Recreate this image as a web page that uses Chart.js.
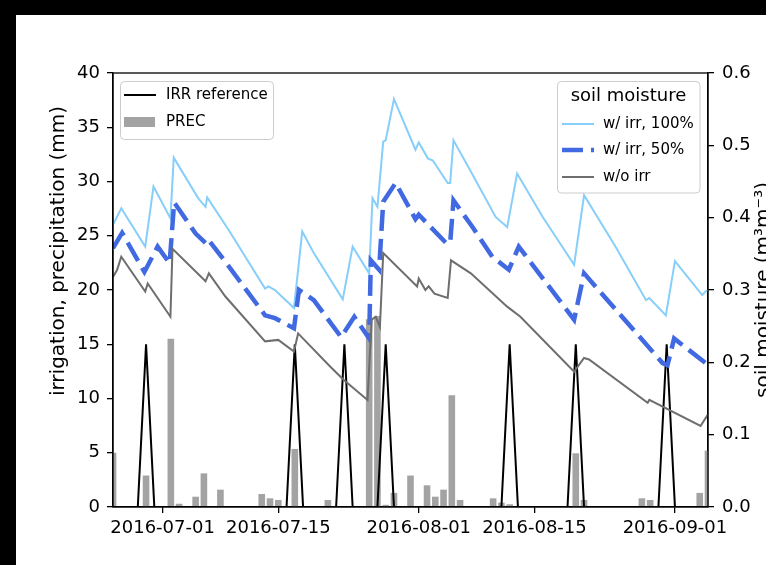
<!DOCTYPE html>
<html lang="en">

<head>
    <meta charset="UTF-8">
    <title>Irrigation, precipitation and soil moisture</title>
    <script src="https://cdn.jsdelivr.net/npm/chart.js"></script>
    <style>
        html, body {
            margin: 0;
            padding: 0;
            background: #000;
        }
        canvas {
            display: block;
        }
    </style>
</head>

<body>
    <canvas id="myChart" width="766" height="565"></canvas>

    <script>
        // day 0 = 2016-06-25, last day = 2016-09-05
        const xTickDays = [6, 20, 37, 51, 68];
        const xTickLabels = ['2016-07-01', '2016-07-15', '2016-08-01', '2016-08-15', '2016-09-01'];

        // daily irrigation reference (mm)
        const irr = [
            0, 0, 0, 0, 15, 0, 0, 0, 0, 0,
            0, 0, 0, 0, 0, 0, 0, 0, 0, 0,
            0, 0, 15, 0, 0, 0, 0, 0, 15, 0,
            0, 0, 0, 15, 0, 0, 0, 0, 0, 0,
            0, 0, 0, 0, 0, 0, 0, 0, 15, 0,
            0, 0, 0, 0, 0, 0, 15, 0, 0, 0,
            0, 0, 0, 0, 0, 0, 0, 15, 0, 0,
            0, 0, 0
        ];

        // daily precipitation (mm)
        const prec = [
            5.0, 0, 0, 0, 2.9, 0, 0, 15.5, 0.3, 0,
            0.95, 3.1, 0, 1.6, 0, 0, 0, 0, 1.2, 0.8,
            0.65, 0, 5.35, 0, 0, 0, 0.65, 0, 0, 0,
            0, 17.3, 17.6, 0.2, 1.3, 0, 2.9, 0, 2.0, 0.95,
            1.6, 10.3, 0.65, 0, 0, 0, 0.8, 0.4, 0.25, 0,
            0, 0, 0, 0, 0, 0, 4.95, 0.65, 0, 0,
            0, 0, 0, 0, 0.8, 0.65, 0, 0, 0, 0,
            0, 1.3, 5.2
        ];

        // soil moisture, w/ irr 100% (m3/m3)
        const sm100Days = [0, 1.0, 3.9, 4.9, 6.95, 7.35, 10.3, 11.2, 11.4, 14.0, 18.4, 18.8, 19.6, 21.9, 22.9, 24.3,
            27.8, 29.0, 31.0, 31.4, 32.0, 32.7, 33.0, 34.0, 36.6, 37.0, 38.1, 38.7, 40.5, 40.8, 41.2, 43.1,
            46.3, 47.7, 48.9, 52.0, 55.8, 57.0, 60.8, 64.5, 64.9, 66.9, 68.0, 71.3, 71.7, 72.0];
        const sm100 = [0.390, 0.413, 0.360, 0.443, 0.399, 0.483, 0.427, 0.415, 0.428, 0.383, 0.302, 0.305, 0.300, 0.275, 0.381, 0.351,
            0.287, 0.360, 0.323, 0.427, 0.415, 0.505, 0.507, 0.564, 0.494, 0.504, 0.482, 0.479, 0.448, 0.448, 0.507, 0.468,
            0.401, 0.387, 0.461, 0.401, 0.335, 0.431, 0.360, 0.286, 0.289, 0.265, 0.340, 0.293, 0.298, 0.300];

        // soil moisture, w/ irr 50%
        const sm50Days = [0, 1.1, 3.8, 5.4, 6.85, 7.4, 10.0, 11.2, 11.5, 13.6, 18.4, 19.6, 21.9, 22.5, 24.3, 27.6,
            29.2, 31.0, 31.2, 32.2, 32.7, 34.2, 36.6, 37.0, 40.3, 40.8, 41.2, 43.5, 45.9, 47.9, 49.1, 55.8,
            57.0, 66.5, 67.1, 67.9, 71.7, 72.0];
        const sm50 = [0.358, 0.379, 0.325, 0.360, 0.337, 0.421, 0.378, 0.365, 0.370, 0.339, 0.265, 0.261, 0.247, 0.300, 0.286, 0.235,
            0.263, 0.233, 0.341, 0.328, 0.422, 0.448, 0.398, 0.404, 0.365, 0.365, 0.424, 0.387, 0.346, 0.328, 0.360, 0.259,
            0.323, 0.199, 0.196, 0.233, 0.199, 0.196];

        // soil moisture, w/o irr
        const smDryDays = [0, 0.5, 1.0, 3.9, 4.2, 6.95, 7.2, 11.2, 11.6, 13.6, 18.4, 20.0, 21.9, 22.4, 26.3, 27.9,
            30.8, 31.3, 31.8, 32.3, 32.7, 36.8, 37.0, 37.8, 38.2, 38.9, 40.5, 40.9, 43.3, 47.7, 49.3, 55.8,
            57.0, 57.6, 64.7, 64.9, 71.1, 72.0];
        const smDry = [0.318, 0.328, 0.346, 0.298, 0.309, 0.263, 0.357, 0.312, 0.323, 0.291, 0.229, 0.231, 0.215, 0.240, 0.194, 0.176,
            0.148, 0.259, 0.263, 0.249, 0.351, 0.305, 0.316, 0.300, 0.305, 0.295, 0.289, 0.341, 0.323, 0.277, 0.263, 0.187,
            0.206, 0.204, 0.144, 0.148, 0.112, 0.128];

        const COL_IRR = '#000000';
        const COL_PREC = '#a3a3a3';
        const COL_100 = '#87cefa';
        const COL_50 = '#4169e1';
        const COL_DRY = '#6e6e6e';
        const DASH = [21, 8];

        const pts = (xs, ys) => xs.map((x, i) => ({ x: x, y: ys[i] }));
        const daily = arr => arr.map((v, i) => ({ x: i, y: v }));

        Chart.defaults.font.family = "'DejaVu Sans', sans-serif";
        Chart.defaults.color = '#000';

        // legends, spines and axis titles drawn by hand (two legends like the original)
        const decor = {
            id: 'decor',
            beforeDraw(chart) {
                const c = chart.ctx;
                c.save();
                c.fillStyle = '#fff';
                c.fillRect(0, 0, chart.width, chart.height);
                c.fillStyle = '#000';
                c.fillRect(0, 0, chart.width, 15);
                c.fillRect(0, 0, 16, chart.height);
                c.restore();
            },
            afterDatasetsDraw(chart) {
                const c = chart.ctx;
                const a = chart.chartArea;
                c.save();
                c.strokeStyle = '#000';
                c.lineWidth = 1.3;
                c.strokeRect(a.left, a.top, a.right - a.left, a.bottom - a.top);
                c.restore();
            },
            afterDraw(chart) {
                const c = chart.ctx;
                c.save();

                function box(x, y, w, h) {
                    c.beginPath();
                    c.roundRect(x, y, w, h, 4);
                    c.fillStyle = 'rgba(255,255,255,0.8)';
                    c.fill();
                    c.strokeStyle = '#cccccc';
                    c.lineWidth = 1;
                    c.stroke();
                    c.fillStyle = '#000';
                }
                function sample(x1, x2, y, color, width, dash) {
                    c.beginPath();
                    c.setLineDash(dash || []);
                    c.moveTo(x1, y);
                    c.lineTo(x2, y);
                    c.strokeStyle = color;
                    c.lineWidth = width;
                    c.stroke();
                    c.setLineDash([]);
                }

                c.textBaseline = 'middle';

                // left legend
                box(120.5, 81.5, 153, 58);
                sample(124, 156, 95, COL_IRR, 2);
                c.fillStyle = COL_PREC;
                c.fillRect(124, 117, 31, 10);
                c.fillStyle = '#000';
                c.font = "15px 'DejaVu Sans'";
                c.textAlign = 'left';
                c.fillText('IRR reference', 166, 95);
                c.fillText('PREC', 166, 122);

                // right legend
                box(557.5, 81.5, 142.5, 111.5);
                c.font = "18px 'DejaVu Sans'";
                c.textAlign = 'center';
                c.fillText('soil moisture', 628.5, 96);
                sample(562, 594, 124, COL_100, 2);
                sample(562, 594, 150, COL_50, 4.5, DASH);
                sample(562, 594, 177, COL_DRY, 2);
                c.fillStyle = '#000';
                c.font = "15px 'DejaVu Sans'";
                c.textAlign = 'left';
                c.fillText('w/ irr, 100%', 603, 124);
                c.fillText('w/ irr, 50%', 603, 150);
                c.fillText('w/o irr', 603, 177);

                // axis titles
                c.font = "20px 'DejaVu Sans'";
                c.textAlign = 'center';
                c.save();
                c.translate(59, 251);
                c.rotate(-Math.PI / 2);
                c.fillText('irrigation, precipitation (mm)', 0, 0);
                c.restore();
                c.save();
                c.translate(764, 290);
                c.rotate(-Math.PI / 2);
                c.fillText('soil moisture (m³m⁻³)', 0, 0);
                c.restore();

                c.restore();
            }
        };

        const data = {
            datasets: [
                {
                    type: 'line',
                    label: 'w/ irr, 100%',
                    data: pts(sm100Days, sm100),
                    borderColor: COL_100,
                    borderWidth: 2,
                    pointRadius: 0,
                    tension: 0,
                    yAxisID: 'y2',
                    order: 2,
                },
                {
                    type: 'line',
                    label: 'w/ irr, 50%',
                    data: pts(sm50Days, sm50),
                    borderColor: COL_50,
                    borderWidth: 4.5,
                    borderDash: DASH,
                    pointRadius: 0,
                    tension: 0,
                    yAxisID: 'y2',
                    order: 1,
                },
                {
                    type: 'line',
                    label: 'w/o irr',
                    data: pts(smDryDays, smDry),
                    borderColor: COL_DRY,
                    borderWidth: 2,
                    pointRadius: 0,
                    tension: 0,
                    yAxisID: 'y2',
                    order: 0,
                },
                {
                    type: 'line',
                    label: 'IRR reference',
                    data: daily(irr),
                    borderColor: COL_IRR,
                    borderWidth: 2,
                    pointRadius: 0,
                    tension: 0,
                    yAxisID: 'y',
                    order: 3,
                },
                {
                    type: 'bar',
                    label: 'PREC',
                    data: daily(prec),
                    backgroundColor: COL_PREC,
                    borderWidth: 0,
                    barPercentage: 0.8,
                    categoryPercentage: 1.0,
                    yAxisID: 'y',
                    order: 4,
                },
            ]
        };

        const tickFont = { size: 18 };
        const tickGrid = { drawOnChartArea: false, drawTicks: true, tickLength: 6, color: '#000', lineWidth: 1.3, offset: false };
        const spine = { display: true, color: '#000', width: 1.3 };

        const config = {
            type: 'bar',
            data: data,
            plugins: [decor],
            options: {
                responsive: false,
                animation: false,
                events: [],
                layout: { padding: { top: 73, left: 0, right: 0, bottom: 0 } },
                plugins: {
                    legend: { display: false },
                    tooltip: { enabled: false },
                },
                scales: {
                    x: {
                        type: 'linear',
                        position: 'bottom',
                        min: 0,
                        max: 72,
                        offset: false,
                        afterBuildTicks: s => { s.ticks = xTickDays.map(v => ({ value: v })); },
                        afterFit: s => { s.height = 58; },
                        ticks: {
                            autoSkip: false,
                            maxRotation: 0,
                            padding: 5,
                            font: tickFont,
                            callback: (v, i) => xTickLabels[i],
                        },
                        grid: tickGrid,
                        border: spine,
                    },
                    y: {
                        position: 'left',
                        min: 0,
                        max: 40,
                        afterFit: s => { s.width = 113; },
                        ticks: { stepSize: 5, padding: 7, font: tickFont },
                        grid: tickGrid,
                        border: spine,
                    },
                    y2: {
                        position: 'right',
                        min: 0,
                        max: 0.6,
                        afterFit: s => { s.width = 58; },
                        ticks: { stepSize: 0.1, padding: 8, font: tickFont, callback: v => v.toFixed(1) },
                        grid: tickGrid,
                        border: spine,
                    }
                }
            }
        };

        const myChart = new Chart(
            document.getElementById('myChart'),
            config
        );
    </script>
</body>

</html>
